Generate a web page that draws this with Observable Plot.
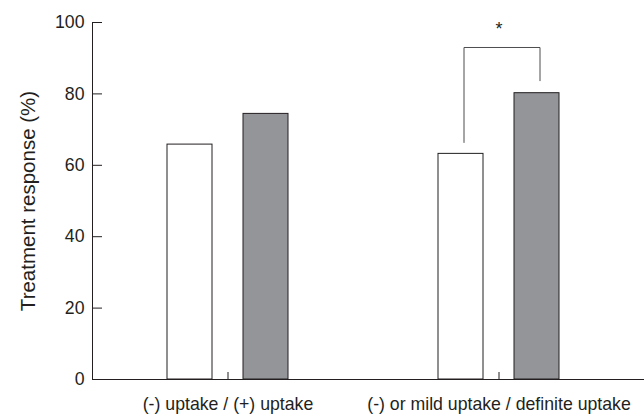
<!DOCTYPE html>
<html><head><meta charset="utf-8">
<script src="https://cdn.jsdelivr.net/npm/d3@7"></script>
<script src="https://cdn.jsdelivr.net/npm/@observablehq/plot@0.6"></script>
<style>body{margin:0;background:#fff;}</style>
</head><body><div id="chart"></div>
<script>
const groups = ["(-) uptake / (+) uptake", "(-) or mild uptake / definite uptake"];
const series = ["without uptake", "with uptake"];
const valuesWithout = [65.8, 63.2];
const valuesWith = [74.4, 80.2];
const yTicks = [0, 20, 40, 60, 80, 100];
const bracketSeries = ["without uptake", "without uptake", "with uptake", "with uptake"];
const bracketY = [66.4, 93, 93, 83.7];
const starY = 98;

const data = groups.flatMap((g, i) => [
  {group: g, series: series[0], value: valuesWithout[i]},
  {group: g, series: series[1], value: valuesWith[i]}
]);
const bracket = bracketSeries.map((s, i) => ({group: groups[1], series: s, y: bracketY[i]}));

const font = '"Liberation Sans", Arial, Helvetica, sans-serif';
const ink = "#231f20";

const chart = Plot.plot({
  width: 644, height: 416,
  marginLeft: 92, marginRight: 0, marginTop: 22, marginBottom: 37,
  style: {fontFamily: font, fontSize: "17.7px", color: ink, background: "#fff", overflow: "visible"},
  fx: {domain: groups, range: [92, 644], paddingInner: 0, paddingOuter: 0.01845, align: 0, label: null, axis: null},
  x: {domain: series, paddingInner: 0.406, paddingOuter: 0.977, axis: null},
  y: {domain: [0, 100], label: null, axis: null},
  color: {domain: series, range: ["#ffffff", "#939598"]},
  marks: [
    Plot.barY(data, {fx: "group", x: "series", y: "value", fill: "series", stroke: ink, strokeWidth: 1}),
    Plot.line(bracket, {fx: "group", x: "series", y: "y", dx: 3, stroke: "#4d4d4f", strokeWidth: 1}),
    Plot.text(["*"], {fx: () => groups[1], y: starY, text: d => d, fontSize: 18, fill: ink}),
    Plot.frame({anchor: "bottom", facet: "super", insetRight: -10, stroke: ink, strokeWidth: 1}),
    Plot.frame({anchor: "left", facet: "super", stroke: ink, strokeWidth: 1}),
    Plot.axisY(yTicks, {anchor: "left", tickSize: -10, tickPadding: 18, label: null, fontSize: 17.7, stroke: ink}),
    Plot.axisFx({anchor: "bottom", tickSize: -7, tickPadding: 25, label: null, fontSize: 17.7, stroke: ink}),
    Plot.text(["Treatment response (%)"], {facet: "super", frameAnchor: "left", textAnchor: "middle", lineAnchor: "middle", rotate: -90, dx: -64.5, text: d => d, fontSize: 20.5, fill: ink})
  ]
});
document.getElementById("chart").append(chart);
</script>
</body></html>
